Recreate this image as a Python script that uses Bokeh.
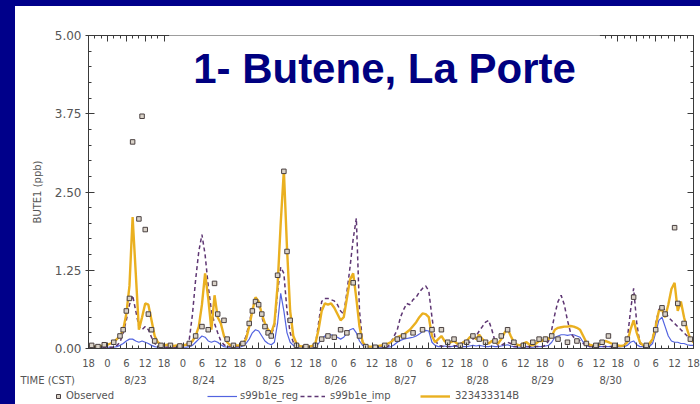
from bokeh.plotting import figure
from bokeh.models import (FixedTicker, LinearAxis, Range1d, Legend, LegendItem,
                          Label, Div, PrintfTickFormatter)
from bokeh.core.properties import value
from bokeh.layouts import row, column
from bokeh.embed import file_html
from bokeh.resources import INLINE

# hours since 8/22 18:00 CST
hours = list(range(193))

base_32343331dB = [
    0.05, 0.04, 0.03, 0.03, 0.04, 0.05,
    0.06, 0.08, 0.10, 0.15, 0.20, 0.30,
    0.55, 1.00, 2.10, 1.20, 0.30, 0.50,
    0.72, 0.70, 0.45, 0.20, 0.10, 0.06,
    0.05, 0.06, 0.05, 0.04, 0.05, 0.06,
    0.05, 0.06, 0.08, 0.12, 0.20, 0.35,
    0.70, 1.20, 0.80, 0.30, 0.85, 0.50,
    0.40, 0.20, 0.10, 0.05, 0.04, 0.05,
    0.05, 0.08, 0.15, 0.35, 0.60, 0.82,
    0.75, 0.55, 0.40, 0.30, 0.25, 0.40,
    1.00, 2.00, 2.85, 1.60, 0.60, 0.20,
    0.08, 0.04, 0.03, 0.03, 0.03, 0.04,
    0.08, 0.30, 0.60, 0.72, 0.70, 0.72,
    0.65, 0.55, 0.45, 0.50, 0.80, 1.10,
    1.20, 0.80, 0.35, 0.10, 0.04, 0.03,
    0.03, 0.03, 0.04, 0.05, 0.06, 0.08,
    0.10, 0.15, 0.18, 0.20, 0.22, 0.26,
    0.30, 0.36, 0.42, 0.50, 0.56, 0.55,
    0.50, 0.20, 0.10, 0.15, 0.20, 0.12,
    0.08, 0.10, 0.12, 0.08, 0.06, 0.10,
    0.12, 0.18, 0.20, 0.15, 0.22, 0.15,
    0.10, 0.08, 0.12, 0.10, 0.08, 0.15,
    0.25, 0.32, 0.20, 0.10, 0.06, 0.05,
    0.08, 0.10, 0.06, 0.05, 0.08, 0.12,
    0.12, 0.18, 0.15, 0.20, 0.30, 0.33,
    0.34, 0.35, 0.35, 0.36, 0.35, 0.33,
    0.30, 0.20, 0.10, 0.06, 0.05, 0.05,
    0.06, 0.08, 0.12, 0.10, 0.08, 0.06,
    0.05, 0.04, 0.05, 0.10, 0.30, 0.45,
    0.25, 0.10, 0.05, 0.05, 0.08, 0.15,
    0.35, 0.60, 0.62, 0.50, 0.70, 0.95,
    1.05, 0.60, 0.75, 0.50, 0.30, 0.15, 0.10,
]

s99b1e_reg = [
    0.02, 0.02, 0.02, 0.02, 0.02, 0.02,
    0.02, 0.02, 0.02, 0.03, 0.05, 0.08,
    0.12, 0.15, 0.15, 0.12, 0.10, 0.12,
    0.10, 0.08, 0.05, 0.03, 0.02, 0.02,
    0.02, 0.02, 0.02, 0.02, 0.02, 0.02,
    0.02, 0.02, 0.03, 0.05, 0.10, 0.15,
    0.20, 0.18, 0.12, 0.10, 0.12, 0.10,
    0.06, 0.03, 0.02, 0.02, 0.02, 0.02,
    0.02, 0.04, 0.08, 0.15, 0.25, 0.30,
    0.28, 0.20, 0.12, 0.08, 0.06, 0.10,
    0.40, 0.88, 0.60, 0.25, 0.10, 0.05,
    0.02, 0.02, 0.02, 0.02, 0.02, 0.02,
    0.03, 0.08, 0.15, 0.20, 0.22, 0.22,
    0.20, 0.18, 0.15, 0.18, 0.25, 0.30,
    0.32, 0.25, 0.12, 0.05, 0.02, 0.02,
    0.02, 0.02, 0.02, 0.02, 0.02, 0.02,
    0.03, 0.06, 0.10, 0.13, 0.15, 0.16,
    0.17, 0.18, 0.20, 0.23, 0.27, 0.29,
    0.28, 0.10, 0.05, 0.03, 0.03, 0.04,
    0.03, 0.03, 0.04, 0.03, 0.03, 0.03,
    0.03, 0.04, 0.05, 0.04, 0.05, 0.04,
    0.03, 0.03, 0.04, 0.03, 0.03, 0.04,
    0.05, 0.06, 0.04, 0.03, 0.02, 0.02,
    0.02, 0.03, 0.02, 0.02, 0.03, 0.03,
    0.03, 0.04, 0.05, 0.10, 0.18, 0.20,
    0.22, 0.22, 0.21, 0.22, 0.22, 0.20,
    0.18, 0.10, 0.05, 0.03, 0.03, 0.03,
    0.03, 0.03, 0.03, 0.03, 0.03, 0.03,
    0.03, 0.03, 0.03, 0.05, 0.10, 0.12,
    0.06, 0.03, 0.03, 0.03, 0.03, 0.08,
    0.25, 0.45, 0.50, 0.35, 0.20, 0.12,
    0.10, 0.10, 0.08, 0.08, 0.06, 0.05, 0.05,
]

s99b1e_imp = [
    0.02, 0.02, 0.02, 0.02, 0.02, 0.02,
    0.02, 0.02, 0.02, 0.05, 0.10, 0.25,
    0.45, 0.70, 0.85, 0.60, 0.35, 0.30,
    0.35, 0.30, 0.18, 0.08, 0.04, 0.02,
    0.02, 0.02, 0.02, 0.02, 0.02, 0.02,
    0.02, 0.05, 0.15, 0.55, 1.10, 1.55,
    1.82, 1.50, 1.00, 0.60, 0.40, 0.25,
    0.12, 0.06, 0.03, 0.03, 0.03, 0.03,
    0.03, 0.08, 0.20, 0.40, 0.65, 0.80,
    0.70, 0.50, 0.35, 0.25, 0.22, 0.35,
    0.90, 1.30, 1.20, 0.60, 0.25, 0.10,
    0.03, 0.03, 0.03, 0.03, 0.03, 0.03,
    0.05, 0.40, 0.75, 0.80, 0.80, 0.78,
    0.76, 0.70, 0.60, 0.55, 0.90, 1.30,
    1.75, 2.08, 0.60, 0.10, 0.03, 0.03,
    0.03, 0.03, 0.03, 0.03, 0.03, 0.03,
    0.10, 0.20, 0.30, 0.50, 0.62, 0.72,
    0.70, 0.78, 0.82, 0.90, 0.96, 1.00,
    0.92, 0.50, 0.15, 0.05, 0.04, 0.03,
    0.03, 0.03, 0.04, 0.05, 0.08, 0.10,
    0.10, 0.10, 0.15, 0.20, 0.28, 0.35,
    0.42, 0.45, 0.30, 0.12, 0.05, 0.05,
    0.08, 0.10, 0.08, 0.03, 0.03, 0.03,
    0.03, 0.03, 0.03, 0.03, 0.03, 0.03,
    0.03, 0.05, 0.12, 0.30, 0.55, 0.75,
    0.85, 0.70, 0.45, 0.25, 0.18, 0.15,
    0.12, 0.08, 0.05, 0.03, 0.03, 0.03,
    0.03, 0.03, 0.03, 0.03, 0.03, 0.03,
    0.03, 0.03, 0.05, 0.15, 0.60, 0.96,
    0.40, 0.08, 0.04, 0.03, 0.05, 0.15,
    0.40, 0.62, 0.68, 0.60, 0.50, 0.45,
    0.40, 0.35, 0.30, 0.25, 0.20, 0.15, 0.10,
]

obs_hour = [1, 3, 5, 8, 10, 11, 12, 13, 14, 16, 17, 18, 19, 20, 21, 23,
            26, 29, 32, 34, 36, 38, 40, 41, 43, 44, 46,
            49, 51, 52, 53, 54, 55, 56, 57, 58, 60, 62, 63, 64, 66, 69,
            72, 74, 76, 78, 80, 82, 84, 86, 88, 91, 94,
            98, 100, 103, 106, 109, 112, 114, 116, 118,
            120, 122, 124, 126, 129, 131, 133, 135, 138, 141, 143,
            145, 147, 149, 152, 155, 158, 161, 163, 165, 167,
            171, 173, 177, 180, 182, 183, 186, 187, 189, 191]
obs_val = [0.05, 0.03, 0.06, 0.10, 0.20, 0.30, 0.60, 0.80, 3.30, 2.07, 3.71, 1.90, 0.55, 0.30, 0.12, 0.05,
           0.05, 0.04, 0.08, 0.20, 0.35, 0.30, 1.04, 0.55, 0.45, 0.15, 0.05,
           0.08, 0.40, 0.60, 0.75, 0.70, 0.55, 0.35, 0.25, 0.20, 1.17, 2.83, 1.55, 0.45, 0.05, 0.03,
           0.05, 0.15, 0.20, 0.18, 0.30, 0.25, 1.05, 0.20, 0.03, 0.02, 0.05,
           0.15, 0.20, 0.25, 0.30, 0.30, 0.30, 0.10, 0.15, 0.05,
           0.10, 0.20, 0.15, 0.10, 0.12, 0.20, 0.30, 0.10, 0.05, 0.10, 0.15,
           0.15, 0.20, 0.15, 0.10, 0.12, 0.08, 0.05, 0.10, 0.20, 0.05,
           0.15, 0.82, 0.05, 0.30, 0.65, 0.55, 1.93, 0.72, 0.40, 0.15]

x_tick_hours = [0, 6, 12, 18, 24, 30, 36, 42, 48, 54, 60, 66, 72, 78, 84, 90, 96,
                102, 108, 114, 120, 126, 132, 138, 144, 150, 156, 162, 168, 174,
                180, 186, 192]
x_tick_labels = ["18", "0", "6", "12"] * 8 + ["18"]
x_minor_hours = list(range(0, 193, 2))
day_label_pos = [14.9, 36.5, 58.7, 78.4, 100.6, 123.5, 144.1, 165.7]
day_labels = ["8/23", "8/24", "8/25", "8/26", "8/27", "8/28", "8/29", "8/30"]
y_ticks = [0.0, 1.25, 2.5, 3.75, 5.0]
y_minor = [i * 0.25 for i in range(21)]

AX = "#3a3a3a"
TXT = "#555555"
FONT = "DejaVu Sans"
NAVY = "#00008a"
C_REG, C_IMP, C_BASE = "#5263e0", "#5e3673", "#eab020"
OBS_FILL, OBS_LINE = "#d9d2c8", "#4a4040"

LEFT_BAND, TOP_BAND = 15, 6
W = 700 - LEFT_BAND          # figure width right of the navy band
FR_L, FR_R = 73, 7
H_MAIN, H_LOW = 366, 32
FRAME_TOP, FRAME_BOTTOM = 29, 342   # inside the main figure
X0, X1 = 0, 192

p = figure(width=W, height=H_MAIN, output_backend="svg", toolbar_location=None,
           x_range=Range1d(X0, X1), y_range=Range1d(0, 5),
           min_border_left=FR_L, min_border_right=FR_R, min_border_top=FRAME_TOP,
           min_border_bottom=H_MAIN - FRAME_BOTTOM, frame_align=False, margin=0)
p.outline_line_color = None
p.xgrid.visible = False
p.ygrid.visible = False


def style_axis(ax, labels=True, fs="10px"):
    ax.axis_line_color = AX
    ax.major_tick_line_color = AX
    ax.minor_tick_line_color = AX
    ax.major_tick_in = 6
    ax.major_tick_out = 0
    ax.minor_tick_in = 3
    ax.minor_tick_out = 0
    ax.major_label_text_color = TXT
    ax.major_label_text_font = FONT
    ax.major_label_text_font_size = fs
    if not labels:
        ax.major_label_text_color = None
        ax.major_label_standoff = 0


# bottom axis: hours of day
xa = p.xaxis[0]
xa.ticker = FixedTicker(ticks=x_tick_hours, minor_ticks=x_minor_hours)
xa.major_label_overrides = {h: s for h, s in zip(x_tick_hours, x_tick_labels)}
style_axis(xa, fs="10px")
xa.major_label_standoff = 10

# top axis (no labels)
ta = LinearAxis(ticker=FixedTicker(ticks=x_tick_hours, minor_ticks=x_minor_hours),
                major_label_overrides={h: "" for h in x_tick_hours})
style_axis(ta, labels=False, fs="1px")
p.add_layout(ta, "above")

# left axis
ya = p.yaxis[0]
ya.ticker = FixedTicker(ticks=y_ticks, minor_ticks=y_minor)
ya.formatter = PrintfTickFormatter(format="%.2f")
style_axis(ya, fs="12px")
ya.major_tick_out = 3
ya.major_label_standoff = 4
ya.axis_label = "BUTE1 (ppb)"
ya.axis_label_text_font = FONT
ya.axis_label_text_font_size = "10px"
ya.axis_label_text_font_style = "normal"
ya.axis_label_text_color = TXT
ya.axis_label_standoff = 9

# right axis (no labels)
ra = LinearAxis(ticker=FixedTicker(ticks=y_ticks, minor_ticks=y_minor),
                major_label_overrides={t: "" for t in y_ticks})
style_axis(ra, labels=False, fs="1px")
p.add_layout(ra, "right")

r_reg = p.line(hours, s99b1e_reg, line_color=C_REG, line_width=1.2)
r_imp = p.line(hours, s99b1e_imp, line_color=C_IMP, line_width=1.5, line_dash="4 3")
r_base = p.line(hours, base_32343331dB, line_color=C_BASE, line_width=2.4)
r_obs = p.scatter(obs_hour, obs_val, marker="square", size=4.5,
                  fill_color=OBS_FILL, line_color=OBS_LINE, line_width=1)

p.add_layout(Label(x=296, y=280, x_units="screen", y_units="screen",
                   text="1- Butene, La Porte", text_font="Liberation Sans",
                   text_font_size="42px", text_font_style="bold",
                   text_color="#000080", text_align="center",
                   text_baseline="alphabetic",
                   background_fill_color="white", padding=24, level="overlay"))

# lower strip: day labels, TIME (CST), legend
k = (X1 - X0) / (W - FR_L - FR_R)
q = figure(width=W, height=H_LOW, output_backend="svg", toolbar_location=None,
           x_range=Range1d(X0 - FR_L * k, X1 + FR_R * k), y_range=Range1d(0, H_LOW),
           x_axis_type=None, y_axis_type=None, frame_align=False, margin=0,
           min_border_left=0, min_border_right=0, min_border_top=0, min_border_bottom=0)
q.outline_line_color = None
q.xgrid.visible = False
q.ygrid.visible = False

q.text(x=day_label_pos, y=24, text=day_labels, text_font=value(FONT),
       text_font_size="10px", text_color=TXT, text_align="center",
       text_baseline="middle")
q.add_layout(Label(x=5, y=24, x_units="screen", y_units="screen",
                   text="TIME (CST)", text_font=FONT, text_font_size="10px",
                   text_color=TXT, text_baseline="middle", text_align="left"))

nan = float("nan")
l_obs = q.scatter([nan], [nan], marker="square", size=4.5, fill_color=OBS_FILL,
                  line_color=OBS_LINE, line_width=1)
l_reg = q.line([nan], [nan], line_color=C_REG, line_width=1.2)
l_imp = q.line([nan], [nan], line_color=C_IMP, line_width=1.5, line_dash="4 3")
l_base = q.line([nan], [nan], line_color=C_BASE, line_width=2.4)


def add_leg(label, rend, x, gw, standoff):
    lg = Legend(items=[LegendItem(label=label, renderers=[rend])],
                location=(x, 3), orientation="horizontal",
                background_fill_alpha=0, border_line_color=None,
                padding=0, margin=0, spacing=0,
                glyph_width=gw, glyph_height=10, label_height=10,
                label_standoff=standoff,
                label_text_font=FONT, label_text_font_size="10px",
                label_text_color=TXT)
    q.add_layout(lg)


add_leg("Observed", l_obs, 38, 10, 3)
add_leg("s99b1e_reg", l_reg, 192, 30, 3)
add_leg("s99b1e_imp", l_imp, 285, 25, 5)
add_leg("323433314B", l_base, 405, 30, 5)

top_band = Div(width=LEFT_BAND + W, height=TOP_BAND, margin=0,
               styles={"background-color": NAVY})
left_band = Div(width=LEFT_BAND, height=H_MAIN + H_LOW, margin=0,
                styles={"background-color": NAVY})
layout = column(top_band, row(left_band, column(p, q, margin=0), margin=0), margin=0)

open("out.html", "w").write(file_html(layout, INLINE))
